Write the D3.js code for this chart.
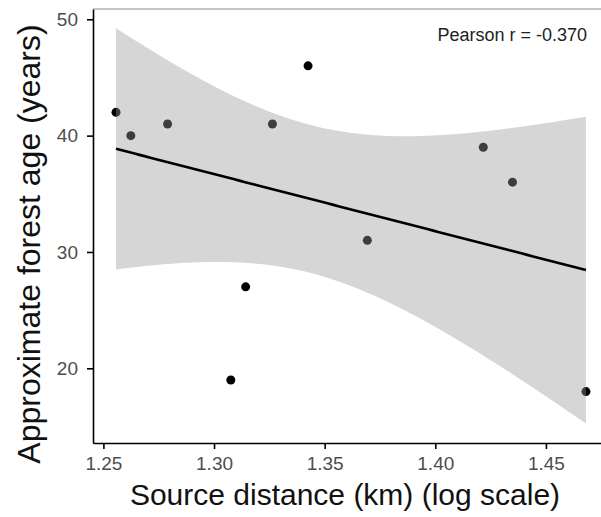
<!DOCTYPE html>
<html>
<head>
<meta charset="utf-8">
<script src="https://d3js.org/d3.v7.min.js"></script>
<style>
body { margin: 0; background: #fff; }
svg { display: block; font-family: "Liberation Sans", Arial, sans-serif; }
</style>
</head>
<body>
<div id="chart"></div>
<script>
// log10 source distance vs approximate forest age
var distLog = [1.2557, 1.2624, 1.2790, 1.3264, 1.3425, 1.3143, 1.3076, 1.3693, 1.4217, 1.4349, 1.4681];
var forestAge = [42, 40, 41, 41, 46, 27, 19, 31, 39, 36, 18];
var xTicks = [1.25, 1.30, 1.35, 1.40, 1.45];
var yTicks = [20, 30, 40, 50];
var pearsonLabel = "Pearson r = -0.370";

var W = 601, H = 517;
// note: "top" is a reserved window prop, so use plot* names
var plotLeft = 93, plotRight = 601, plotTop = 9, plotBottom = 443;

var svg = d3.select("#chart").append("svg")
    .attr("width", W)
    .attr("height", H);

var x = d3.scaleLinear()
    .domain([1.2453, 1.4749])
    .range([plotLeft, plotRight]);

var y = d3.scaleLinear()
    .domain([13.58, 50.885])
    .range([plotBottom, plotTop]);

var data = distLog.map(function(d, i) { return {x: d, y: forestAge[i]}; });

// linear fit + 95% CI, same as geom_smooth(method = "lm")
var n = data.length;
var mx = d3.mean(data, function(d) { return d.x; });
var my = d3.mean(data, function(d) { return d.y; });
var sxx = d3.sum(data, function(d) { return (d.x - mx) * (d.x - mx); });
var sxy = d3.sum(data, function(d) { return (d.x - mx) * (d.y - my); });
var slope = sxy / sxx;
var icpt = my - slope * mx;
var sse = d3.sum(data, function(d) { var r = d.y - (icpt + slope * d.x); return r * r; });
var sRes = Math.sqrt(sse / (n - 2));
var tCrit = 2.262; // t(0.975, df = 9)

var xExt = d3.extent(distLog);
var fit = d3.range(0, 81).map(function(i) {
    var xv = xExt[0] + (xExt[1] - xExt[0]) * i / 80;
    var yv = icpt + slope * xv;
    var se = sRes * Math.sqrt(1 / n + (xv - mx) * (xv - mx) / sxx);
    return {x: xv, y: yv, lo: yv - tCrit * se, hi: yv + tCrit * se};
});

// points first, ribbon drawn over them with alpha (ggplot order)
svg.selectAll("circle.pt")
    .data(data)
    .enter().append("circle")
    .attr("class", "pt")
    .attr("cx", function(d) { return x(d.x); })
    .attr("cy", function(d) { return y(d.y); })
    .attr("r", 4.5)
    .style("fill", "#000");

svg.append("path")
    .datum(fit)
    .attr("fill", "#999999")
    .attr("fill-opacity", 0.4)
    .attr("d", d3.area()
        .x(function(d) { return x(d.x); })
        .y0(function(d) { return y(d.lo); })
        .y1(function(d) { return y(d.hi); })
    );

svg.append("path")
    .datum(fit)
    .attr("fill", "none")
    .attr("stroke", "#000")
    .attr("stroke-width", 2.6)
    .attr("d", d3.line()
        .x(function(d) { return x(d.x); })
        .y(function(d) { return y(d.y); })
    );

// faint top border
svg.append("line")
    .attr("x1", plotLeft).attr("x2", plotRight)
    .attr("y1", plotTop).attr("y2", plotTop)
    .attr("stroke", "#b3b3b3")
    .attr("stroke-width", 1.5);

var xAxis = svg.append("g")
    .attr("transform", "translate(0," + plotBottom + ")")
    .call(d3.axisBottom(x).tickValues(xTicks).tickFormat(d3.format(".2f"))
        .tickSize(6).tickSizeOuter(0).tickPadding(8));

var yAxis = svg.append("g")
    .attr("transform", "translate(" + plotLeft + ",0)")
    .call(d3.axisLeft(y).tickValues(yTicks).tickSize(6).tickSizeOuter(0).tickPadding(9));

[xAxis, yAxis].forEach(function(g) {
    g.select(".domain").attr("stroke", "#000").attr("stroke-width", 1.6);
    g.selectAll(".tick line").attr("stroke", "#000").attr("stroke-width", 1.6);
    g.selectAll(".tick text")
        .style("font-family", "Liberation Sans, Arial, sans-serif")
        .style("font-size", "19px")
        .attr("fill", "#4d4d4d");
});

svg.append("text")
    .attr("x", (plotLeft + plotRight) / 2 - 2)
    .attr("y", 505)
    .attr("text-anchor", "middle")
    .style("font-size", "30px")
    .attr("fill", "#111")
    .text("Source distance (km) (log scale)");

svg.append("text")
    .attr("transform", "translate(40,244) rotate(-90)")
    .attr("text-anchor", "middle")
    .style("font-size", "32px")
    .attr("fill", "#111")
    .text("Approximate forest age (years)");

svg.append("text")
    .attr("x", 587)
    .attr("y", 41)
    .attr("text-anchor", "end")
    .style("font-size", "18px")
    .attr("fill", "#222")
    .text(pearsonLabel);
</script>
</body>
</html>
